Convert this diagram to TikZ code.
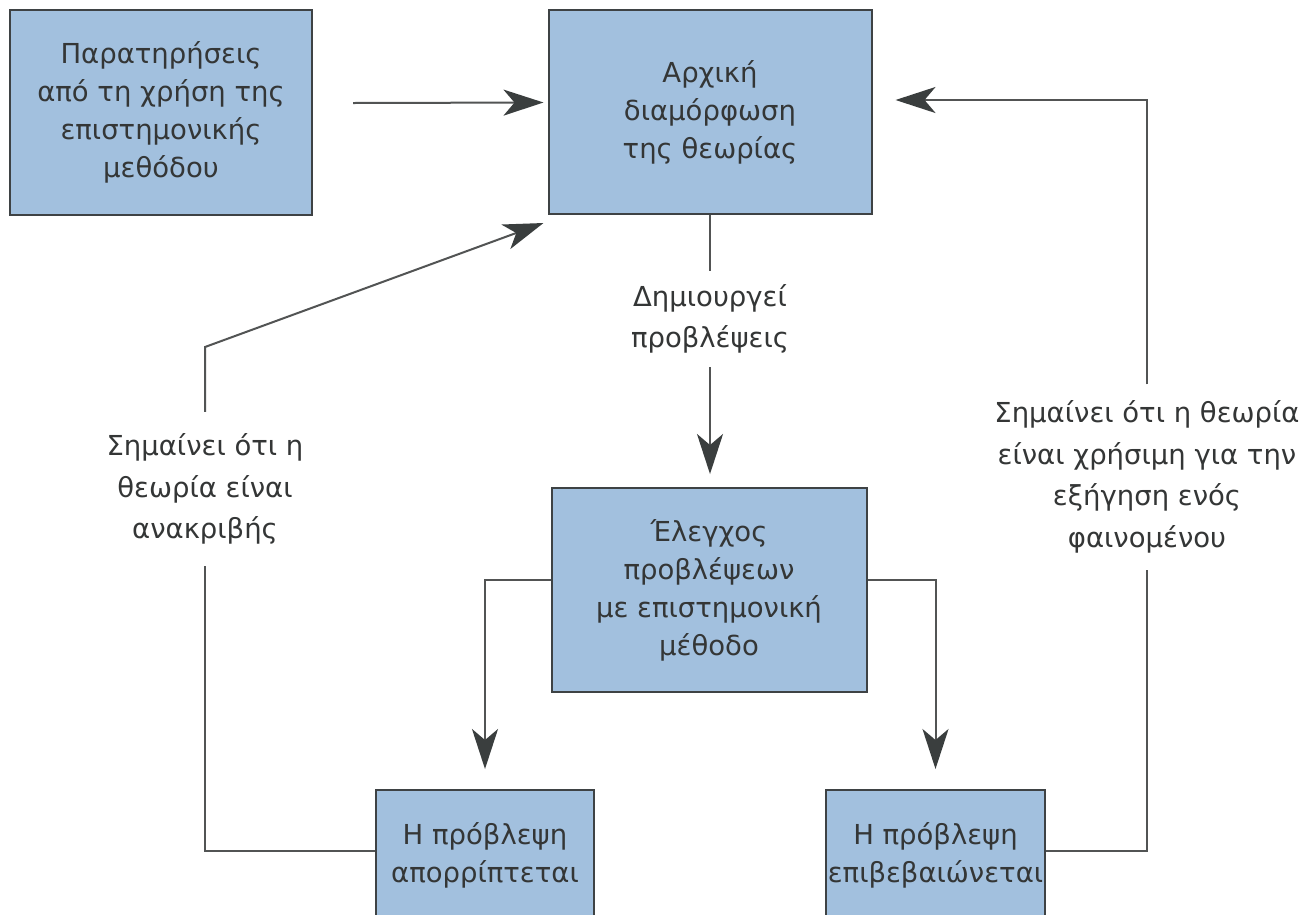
\documentclass[tikz,border=0pt]{standalone}
\usepackage{fontspec}
\setmainfont{DejaVu Sans}
\usetikzlibrary{arrows.meta,calc}
\definecolor{boxfill}{RGB}{162,192,222}
\definecolor{boxdraw}{RGB}{62,66,68}
\definecolor{txt}{RGB}{52,54,54}
\definecolor{ln}{RGB}{82,84,84}
\definecolor{tip}{RGB}{58,62,62}
\begin{document}
\begin{tikzpicture}[x=1pt,y=-1pt,
  every node/.style={text=txt, align=center},
  box/.style={draw=boxdraw, line width=2pt, fill=boxfill, inner sep=0pt,
    font=\fontsize{27.5}{38}\selectfont},
  lab/.style={font=\fontsize{27.5}{41.5}\selectfont, inner sep=0pt},
  conn/.style={draw=ln, line width=2pt},
  arr/.style={conn, -{Stealth[length=40pt,width=26pt,inset=11pt,color=tip]}}]
\useasboundingbox (0,0) rectangle (1306,914);
\clip (0,0) rectangle (1306,914);
\fill[white] (0,0) rectangle (1306,914);

% boxes
\node[box, minimum width=302pt, minimum height=205pt] (b1) at (161,112.5)
  {Παρατηρήσεις\\από τη χρήση της\\επιστημονικής\\μεθόδου};
\node[box, minimum width=323pt, minimum height=204pt] (b2) at (710,112)
  {Αρχική\\διαμόρφωση\\της θεωρίας};
\node[box, minimum width=315pt, minimum height=204pt] (b3) at (709,590)
  {Έλεγχος\\προβλέψεων\\με επιστημονική\\μέθοδο};
\node[box, minimum width=218pt, minimum height=130pt] (b4) at (485,855)
  {Η πρόβλεψη\\απορρίπτεται};
\node[box, minimum width=219pt, minimum height=130pt] (b5) at (935.5,855)
  {Η πρόβλεψη\\επιβεβαιώνεται};

% labels
\node[lab, minimum height=96pt] (l0) at (710,319) {Δημιουργεί\\προβλέψεις};
\node[lab, minimum height=154pt] (l1) at (205,489) {Σημαίνει ότι η\\θεωρία είναι\\ανακριβής};
\node[lab, minimum height=185pt] (l2) at (1147,477) {Σημαίνει ότι η θεωρία\\είναι χρήσιμη για την\\εξήγηση ενός\\φαινομένου};

% connectors
\draw[arr] ([xshift=40pt,yshift=9.5pt]b1.east) -- ([xshift=-4pt,yshift=9.5pt]b2.west);
\draw[conn] (b2.south) -- (l0.north);
\draw[arr] (l0.south) -- ([yshift=13pt]l0.south |- b3.north);
\draw[arr] ([yshift=10pt]b3.west) -| ([yshift=20pt]b4.north);
\draw[arr] ([yshift=10pt]b3.east) -| ([yshift=20pt]b5.north);
\coordinate (c1) at (205,347);
\draw[conn] ([yshift=4pt]b4.west) -| (l1.south);
\draw[arr] (l1.north) -- (c1) -- ([xshift=-4pt,yshift=-8pt]b2.south west);
\draw[conn] ([yshift=4pt]b5.east) -| (l2.south);
\draw[arr] (l2.north) |- ([xshift=23pt,yshift=12pt]b2.east);
\end{tikzpicture}
\end{document}
